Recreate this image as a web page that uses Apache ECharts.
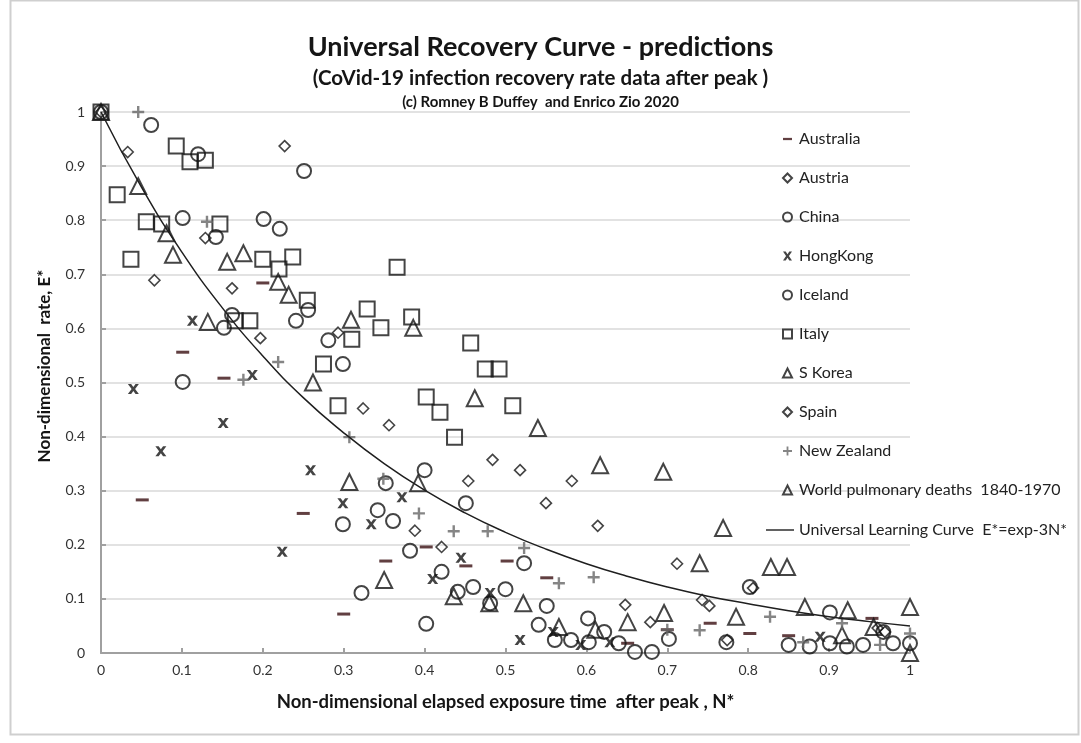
<!DOCTYPE html>
<html>
<head>
<meta charset="utf-8">
<script src="https://cdn.jsdelivr.net/npm/echarts@6/dist/echarts.min.js"></script>
<style>
  html, body { margin: 0; padding: 0; background: #fff; }
  #chart { width: 1081px; height: 743px; }
</style>
</head>
<body>
<div id="chart"></div>
<script>
// points: [N*, E*]
const australia = [[0.051,0.283],[0.101,0.556],[0.152,0.508],[0.20,0.684],[0.25,0.258],[0.30,0.072],[0.352,0.17],[0.402,0.196],[0.451,0.161],[0.502,0.17],[0.551,0.139],[0.651,0.018],[0.70,0.043],[0.753,0.055],[0.802,0.036],[0.85,0.032],[0.953,0.064]]
const austria = [[0,1.0],[0.033,0.926],[0.129,0.767],[0.197,0.582],[0.293,0.592],[0.356,0.421],[0.421,0.196],[0.484,0.357],[0.55,0.277],[0.614,0.235],[0.679,0.057],[0.743,0.098],[0.774,0.024],[0.96,0.046]]
const china = [[0,1.0],[0.062,0.976],[0.12,0.922],[0.101,0.804],[0.142,0.769],[0.201,0.802],[0.221,0.784],[0.251,0.891],[0.162,0.625],[0.152,0.601],[0.241,0.614],[0.256,0.634],[0.281,0.578],[0.299,0.534],[0.352,0.314],[0.40,0.338],[0.451,0.277],[0.523,0.166],[0.602,0.064],[0.802,0.122],[0.901,0.075]]
const hongkong = [[0.04,0.488],[0.074,0.373],[0.113,0.614],[0.151,0.425],[0.187,0.514],[0.224,0.187],[0.259,0.338],[0.299,0.277],[0.334,0.238],[0.372,0.288],[0.41,0.137],[0.445,0.176],[0.481,0.111],[0.518,0.024],[0.559,0.039],[0.593,0.015],[0.629,0.02],[0.889,0.03]]
const iceland = [[0.101,0.501],[0.299,0.238],[0.322,0.111],[0.342,0.264],[0.361,0.244],[0.382,0.189],[0.402,0.054],[0.421,0.15],[0.441,0.113],[0.46,0.122],[0.481,0.092],[0.50,0.118],[0.541,0.052],[0.551,0.087],[0.561,0.024],[0.581,0.024],[0.603,0.02],[0.622,0.039],[0.64,0.018],[0.66,0.002],[0.681,0.002],[0.702,0.026],[0.773,0.02],[0.85,0.015],[0.876,0.012],[0.901,0.018],[0.922,0.012],[0.942,0.015],[0.967,0.039],[0.979,0.018],[1.0,0.018]]
const italy = [[0,1.0],[0.02,0.847],[0.037,0.728],[0.056,0.797],[0.075,0.793],[0.093,0.937],[0.11,0.908],[0.129,0.911],[0.147,0.793],[0.166,0.614],[0.184,0.614],[0.20,0.728],[0.22,0.71],[0.237,0.732],[0.255,0.652],[0.275,0.534],[0.293,0.457],[0.31,0.58],[0.329,0.636],[0.346,0.601],[0.366,0.713],[0.384,0.621],[0.402,0.473],[0.419,0.445],[0.437,0.399],[0.457,0.573],[0.475,0.525],[0.492,0.525],[0.509,0.457]]
const skorea = [[0,1.0],[0.046,0.863],[0.081,0.776],[0.089,0.736],[0.132,0.612],[0.156,0.723],[0.176,0.739],[0.219,0.686],[0.232,0.662],[0.262,0.5],[0.309,0.616],[0.35,0.135],[0.386,0.601],[0.436,0.105],[0.48,0.092],[0.522,0.092],[0.566,0.048],[0.611,0.043],[0.651,0.057],[0.696,0.074],[0.785,0.067],[0.916,0.033],[0.955,0.048],[1.0,0.0]]
const spain = [[0.066,0.689],[0.162,0.674],[0.227,0.937],[0.324,0.452],[0.388,0.226],[0.454,0.318],[0.518,0.338],[0.582,0.318],[0.648,0.089],[0.712,0.165],[0.752,0.087],[0.806,0.12],[0.969,0.039]]
const newZealand = [[0.046,1.0],[0.131,0.797],[0.176,0.505],[0.219,0.538],[0.307,0.399],[0.349,0.322],[0.393,0.258],[0.436,0.225],[0.478,0.225],[0.523,0.194],[0.566,0.129],[0.609,0.14],[0.70,0.043],[0.74,0.042],[0.827,0.067],[0.868,0.02],[0.916,0.055],[0.963,0.015],[1.0,0.036]]
const worldPulmonary = [[0.307,0.316],[0.392,0.314],[0.462,0.471],[0.54,0.416],[0.617,0.347],[0.695,0.335],[0.74,0.166],[0.769,0.231],[0.828,0.159],[0.848,0.159],[0.87,0.085],[0.923,0.079],[1.0,0.085]]
// universal learning curve, sampled every 0.05
const curveN = [0,0.05,0.1,0.15,0.2,0.25,0.3,0.35,0.4,0.45,0.5,0.55,0.6,0.65,0.7,0.75,0.8,0.85,0.9,0.95,1]
const curveE = [1,0.861,0.741,0.638,0.549,0.472,0.407,0.350,0.301,0.259,0.223,0.192,0.165,0.142,0.122,0.105,0.091,0.078,0.067,0.058,0.050]

const FONT = 'Lato, "Open Sans", sans-serif'
const INK = '#151515'
const CURVE = 'Universal Learning Curve  E*=exp-3N*'

let hollow = {color: 'rgba(255,255,255,0)', borderColor: INK, borderWidth: 2}
let hollowThin = {color: 'rgba(255,255,255,0)', borderColor: INK, borderWidth: 1.6}

function scatter(name, data, symbol, size, style) {
  return {name: name, type: 'scatter', data: data, symbol: symbol, symbolSize: size, itemStyle: style}
}

let chart = echarts.init(document.getElementById('chart'))
chart.setOption({
  animation: false,
  backgroundColor: '#fff',
  textStyle: {fontFamily: FONT},
  title: [
    {text: 'Universal Recovery Curve - predictions', left: 'center', top: 29,
      textStyle: {fontSize: 27, fontWeight: 'bold', color: INK, fontFamily: FONT}},
    {text: '(CoVid-19 infection recovery rate data after peak )', left: 'center', top: 63,
      textStyle: {fontSize: 20.5, fontWeight: 'bold', color: INK, fontFamily: FONT}},
    {text: '(c) Romney B Duffey  and Enrico Zio 2020', left: 'center', top: 90,
      textStyle: {fontSize: 15, fontWeight: 'bold', color: INK, fontFamily: FONT}}
  ],
  graphic: [{
    type: 'rect', left: 8, top: -2, silent: true,
    shape: {width: 1068, height: 734},
    style: {fill: 'none', stroke: '#cfcfcf', lineWidth: 2}
  }, {
    type: 'text', x: 45, y: 366, rotation: Math.PI / 2, silent: true,
    style: {text: 'Non-dimensional  rate, E*', align: 'center', verticalAlign: 'middle',
      font: 'bold 17px ' + FONT, fill: INK}
  }],
  legend: [{
    orient: 'vertical', left: 777, top: 126, itemWidth: 9, itemHeight: 9, itemGap: 23,
    textStyle: {fontSize: 16, color: '#222', fontFamily: FONT, padding: [0, 0, 0, 2]},
    data: [{name: 'Australia', icon: 'path://M0,0H12V3H0Z'}, 'Austria', 'China', 'HongKong', 'Iceland', 'Italy',
      'S Korea', 'Spain', 'New Zealand', 'World pulmonary deaths  1840-1970']
  }, {
    orient: 'vertical', left: 761, top: 517, itemWidth: 28, itemHeight: 9,
    textStyle: {fontSize: 16, color: '#222', fontFamily: FONT},
    data: [{name: CURVE, icon: 'path://M0,0H30V1.5H0Z'}]
  }],
  grid: {left: 101, right: 171, top: 112, bottom: 90},
  xAxis: {
    type: 'value', min: 0, max: 1, interval: 0.1,
    name: 'Non-dimensional elapsed exposure time  after peak , N*',
    nameLocation: 'middle', nameGap: 40,
    nameTextStyle: {fontSize: 18.5, fontWeight: 'bold', color: INK, fontFamily: FONT},
    axisLine: {lineStyle: {color: '#a0a0a0', width: 2}},
    axisTick: {inside: true, length: 5, lineStyle: {color: '#a0a0a0', width: 2}},
    axisLabel: {fontSize: 14, color: '#333', margin: 10, formatter: v => String(+v.toFixed(1))},
    splitLine: {show: false}
  },
  yAxis: {
    type: 'value', min: 0, max: 1, interval: 0.1,
    axisLine: {show: true, lineStyle: {color: '#a0a0a0', width: 2}},
    axisTick: {show: true, inside: true, length: 5, lineStyle: {color: '#a0a0a0', width: 2}},
    axisLabel: {fontSize: 14, color: '#333', margin: 16, formatter: v => String(+v.toFixed(1))},
    splitLine: {lineStyle: {color: '#e2e2e2', width: 2}}
  },
  series: [
    scatter('Australia', australia, 'rect', [13, 3], {color: '#3a0f12'}),
    scatter('Austria', austria, 'diamond', 11, hollowThin),
    scatter('China', china, 'circle', 14, hollow),
    scatter('HongKong', hongkong, 'path://M0,0H3L5,3L7,0H10L6.6,5L10,10H7L5,7L3,10H0L3.4,5Z', [11, 10], {color: INK}),
    scatter('Iceland', iceland, 'circle', 14, hollow),
    scatter('Italy', italy, 'rect', 15, hollow),
    scatter('S Korea', skorea, 'triangle', 16, hollow),
    scatter('Spain', spain, 'diamond', 11, hollowThin),
    scatter('New Zealand', newZealand, 'path://M4,0H6V4H10V6H6V10H4V6H0V4H4Z', 12, {color: '#666'}),
    scatter('World pulmonary deaths  1840-1970', worldPulmonary, 'triangle', 16, hollow),
    {
      name: CURVE, type: 'line', smooth: true, symbol: 'none',
      data: curveN.map((n, i) => [n, curveE[i]]),
      lineStyle: {color: '#1f1f1f', width: 1.5},
      itemStyle: {color: '#1f1f1f'}
    }
  ]
})
</script>
</body>
</html>
